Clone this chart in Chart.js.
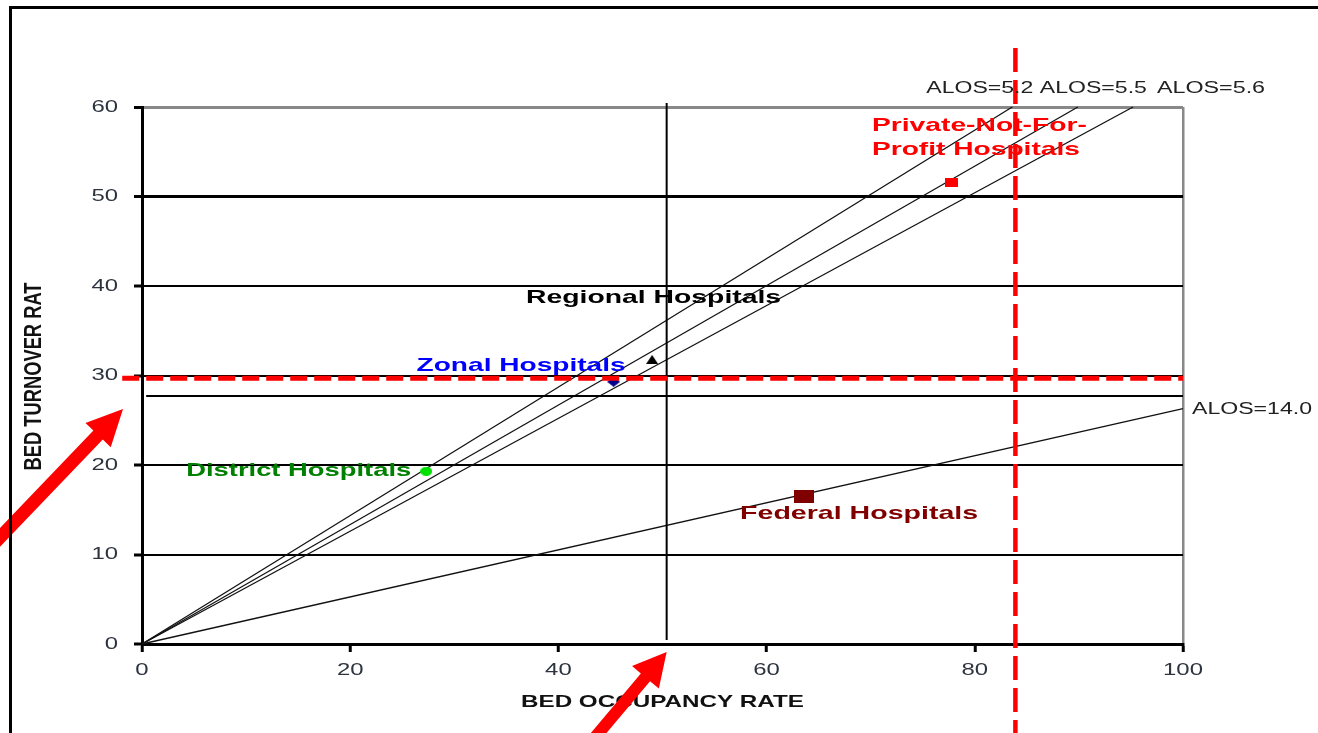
<!DOCTYPE html>
<html>
<head>
<meta charset="utf-8">
<script src="https://cdn.jsdelivr.net/npm/chart.js"></script>
<style>
  html, body { margin: 0; padding: 0; background: #fff; }
  #wrap { position: relative; width: 1318px; height: 733px; overflow: hidden; }
  #frame { position: absolute; left: 9px; top: 6px; right: -10px; bottom: -10px;
           border-top: 3px solid #000; border-left: 3px solid #000; pointer-events: none; }
</style>
</head>
<body>
<div id="wrap">
  <canvas id="myChart"></canvas>
  <div id="frame"></div>
</div>
<script>
// data
var xTicks = [0, 20, 40, 60, 80, 100];
var yTicks = [0, 10, 20, 30, 40, 50, 60];

var alosLabels = ["ALOS=5.2", "ALOS=5.5", "ALOS=5.6", "ALOS=14.0"];
var alosEndX = [83.6, 89.9, 95.2, 100];
var alosEndY = [60, 60, 60, 26.3];

var hospitals = ["Private-Not-For-\nProfit Hospitals", "Regional Hospitals", "Zonal Hospitals", "District Hospitals", "Federal Hospitals"];
var bor = [77.8, 49.0, 45.3, 27.3, 63.6];   // bed occupancy rate
var btr = [51.6, 31.8, 29.3, 19.3, 16.5];   // bed turnover rate

var meanBOR = 50.4;
var meanBTR = 27.7;
var normBOR = 83.9;
var normBTR = 29.7;

var xTitle = "BED OCCUPANCY RATE";
var yTitle = "BED TURNOVER RAT";

// styles
var FONT = "'Liberation Sans', Arial, sans-serif";
var STRETCH = 1.45; // the source picture is stretched sideways
var markColors = ["#ff0000", "#000000", "#00008b", "#00e000", "#800000"];
var markShapes = ["rect", "tri", "diamond", "ellipse", "rect"];
var markSizes = [[13, 9], [12, 9], [13, 10], [12, 9], [20, 13]];
var labelColors = ["#ff0000", "#000000", "#0000ff", "#008000", "#800000"];
// label offset from its point, text width
var labelPos = [
  {dx: -80, dy: -56, widths: [215, 208], align: "left"},
  {dx: -126, dy: -61, widths: [255], align: "left"},
  {dx: -197, dy: -16, widths: [209], align: "left"},
  {dx: -15, dy: 0, widths: [225], align: "right"},
  {dx: -64, dy: 18, widths: [238], align: "left"}
];
var alosPos = [{dx: -86, dy: -18, w: 107}, {dx: -38, dy: -18, w: 107}, {dx: 24, dy: -18, w: 108}, {dx: 9, dy: 1, w: 120}];

function markCanvas(w, h, color, shape) {
  var c = document.createElement("canvas");
  c.width = w; c.height = h;
  var g = c.getContext("2d");
  g.fillStyle = color;
  g.beginPath();
  if (shape == "rect") {
    g.rect(0, 0, w, h);
  } else if (shape == "tri") {
    g.moveTo(w / 2, 0); g.lineTo(w, h); g.lineTo(0, h); g.closePath();
  } else if (shape == "diamond") {
    g.moveTo(w / 2, 0); g.lineTo(w, h / 2); g.lineTo(w / 2, h); g.lineTo(0, h / 2); g.closePath();
  } else {
    g.ellipse(w / 2, h / 2, w / 2, h / 2, 0, 0, Math.PI * 2);
  }
  g.fill();
  return c;
}

function lineSet(pts, color, width, dash, order) {
  return {
    data: pts, showLine: true, borderColor: color, borderWidth: width,
    borderDash: dash || [], pointRadius: 0, clip: false, order: order
  };
}

var datasets = [];
//ALOS lines from the origin
for (var i = 0; i < alosLabels.length; i++) {
  datasets.push(lineSet([{x: 0, y: 0}, {x: alosEndX[i], y: alosEndY[i]}], "#111", 1.3, null, 3));
}
//mean lines
datasets.push(lineSet([{x: 0.4, y: meanBTR}, {x: 100, y: meanBTR}], "#000", 2, null, 2));
datasets.push(lineSet([{x: meanBOR, y: 0.45}, {x: meanBOR, y: 60.45}], "#000", 2, null, 2));
//red dashed norms
datasets.push(lineSet([{x: -1.9, y: normBTR}, {x: 100, y: normBTR}], "#ff0000", 5, [17, 7], 0));
datasets.push(lineSet([{x: normBOR, y: 66.6}, {x: normBOR, y: -10}], "#ff0000", 4.5, [24, 8], 0));
//hospitals
var hospStart = datasets.length;
for (var i = 0; i < hospitals.length; i++) {
  datasets.push({
    data: [{x: bor[i], y: btr[i]}],
    pointStyle: markCanvas(markSizes[i][0], markSizes[i][1], markColors[i], markShapes[i]),
    pointRadius: 6, order: 1
  });
}

function stretchText(ctx, text, x, y, font, color, width, align) {
  ctx.save();
  ctx.font = font;
  ctx.fillStyle = color;
  ctx.textBaseline = "middle";
  ctx.textAlign = "left";
  var w = ctx.measureText(text).width;
  var sx = width / w;
  if (align == "right") x = x - width;
  if (align == "center") x = x - width / 2;
  ctx.translate(x, y);
  ctx.scale(sx, 1);
  ctx.fillText(text, 0, 0);
  ctx.restore();
}

function arrow(ctx, tx, ty, dirx, diry, len, shaft, headL, headW) {
  var n = Math.sqrt(dirx * dirx + diry * diry);
  var ux = dirx / n, uy = diry / n;
  var px = -uy, py = ux;
  var bx = tx - ux * headL, by = ty - uy * headL;
  var ex = tx - ux * len, ey = ty - uy * len;
  ctx.save();
  ctx.fillStyle = "#ff0000";
  ctx.beginPath();
  ctx.moveTo(tx, ty);
  ctx.lineTo(bx + px * headW / 2, by + py * headW / 2);
  ctx.lineTo(bx + px * shaft / 2, by + py * shaft / 2);
  ctx.lineTo(ex + px * shaft / 2, ey + py * shaft / 2);
  ctx.lineTo(ex - px * shaft / 2, ey - py * shaft / 2);
  ctx.lineTo(bx - px * shaft / 2, by - py * shaft / 2);
  ctx.lineTo(bx - px * headW / 2, by - py * headW / 2);
  ctx.closePath();
  ctx.fill();
  ctx.restore();
}

var annotate = {
  id: "annotate",
  //tick labels drawn by chart.js come out stretched sideways like the source
  beforeDraw: function(chart) {
    var c = chart.ctx;
    var orig = CanvasRenderingContext2D.prototype.fillText;
    c.fillText = function(t, x, y) {
      this.save();
      this.translate(x, y);
      this.scale(STRETCH, 1);
      orig.call(this, t, 0, 0);
      this.restore();
    };
  },
  beforeDatasetsDraw: function(chart) {
    delete chart.ctx.fillText;
  },
  afterDatasetsDraw: function(chart) {
    var ctx = chart.ctx;
    var xs = chart.scales.x, ys = chart.scales.y;
    var area = chart.chartArea;

    //hospital labels
    for (var i = 0; i < hospitals.length; i++) {
      var p = chart.getDatasetMeta(hospStart + i).data[0];
      var lines = hospitals[i].split("\n");
      var lp = labelPos[i];
      for (var j = 0; j < lines.length; j++) {
        stretchText(ctx, lines[j], p.x + lp.dx, p.y + lp.dy + j * 24, "bold 18.5px " + FONT,
          labelColors[i], lp.widths[j], lp.align);
      }
    }

    //ALOS labels
    for (var i = 0; i < alosLabels.length; i++) {
      var ex = xs.getPixelForValue(alosEndX[i]);
      var ey = ys.getPixelForValue(alosEndY[i]);
      stretchText(ctx, alosLabels[i], ex + alosPos[i].dx, ey + alosPos[i].dy, "16px " + FONT,
        "#222", alosPos[i].w, "left");
    }

    //axis titles
    stretchText(ctx, xTitle, (area.left + area.right) / 2, area.bottom + 58, "bold 17px " + FONT, "#111", 283, "center");
    ctx.save();
    ctx.translate(34, (area.top + area.bottom) / 2 + 1);
    ctx.rotate(-Math.PI / 2);
    ctx.scale(1, 1.45);
    stretchText(ctx, yTitle, 0, 0, "bold 17px " + FONT, "#111", 188, "center");
    ctx.restore();

    //red arrows
    arrow(ctx, area.left - 19, ys.getPixelForValue(meanBTR) + 13, 0.69, -0.72, 190, 13, 36, 35);
    arrow(ctx, xs.getPixelForValue(meanBOR), area.bottom + 8, 0.643, -0.766, 130, 12, 33, 35);
  }
};

var ctx = document.getElementById("myChart").getContext("2d");
var chart = new Chart(ctx, {
  type: "scatter",
  data: { datasets: datasets },
  options: {
    responsive: true,
    maintainAspectRatio: false,
    animation: false,
    events: [],
    layout: { padding: { left: 0, right: 135, top: 107, bottom: 0 } },
    plugins: { legend: { display: false }, tooltip: { enabled: false } },
    scales: {
      x: {
        type: "linear", min: xTicks[0], max: xTicks[xTicks.length - 1],
        afterFit: function(scale) { scale.height = 89; },
        afterBuildTicks: function(scale) { scale.ticks = xTicks.map(function(v) { return {value: v}; }); },
        grid: {
          color: function(c) { return c.tick && c.tick.value === 100 ? "#888" : "rgba(0,0,0,0)"; },
          lineWidth: 2.5, tickColor: "#000", tickWidth: 3, tickLength: 8
        },
        border: { color: "#000", width: 3 },
        ticks: { color: "#2d3440", font: { family: FONT, size: 16.5 }, padding: 9, maxRotation: 0 }
      },
      y: {
        type: "linear", min: yTicks[0], max: yTicks[yTicks.length - 1],
        afterFit: function(scale) { scale.width = 142; },
        afterBuildTicks: function(scale) { scale.ticks = yTicks.map(function(v) { return {value: v}; }); },
        grid: {
          color: function(c) { return c.tick && c.tick.value === 60 ? "#888" : "#000"; },
          lineWidth: function(c) { return c.tick && (c.tick.value === 50 || c.tick.value === 60) ? 3 : 2; },
          tickColor: "#000", tickWidth: 3, tickLength: 8
        },
        border: { color: "#000", width: 3 },
        ticks: { color: "#2d3440", font: { family: FONT, size: 16.5 }, padding: 16 }
      }
    }
  },
  plugins: [annotate]
});
</script>
</body>
</html>
